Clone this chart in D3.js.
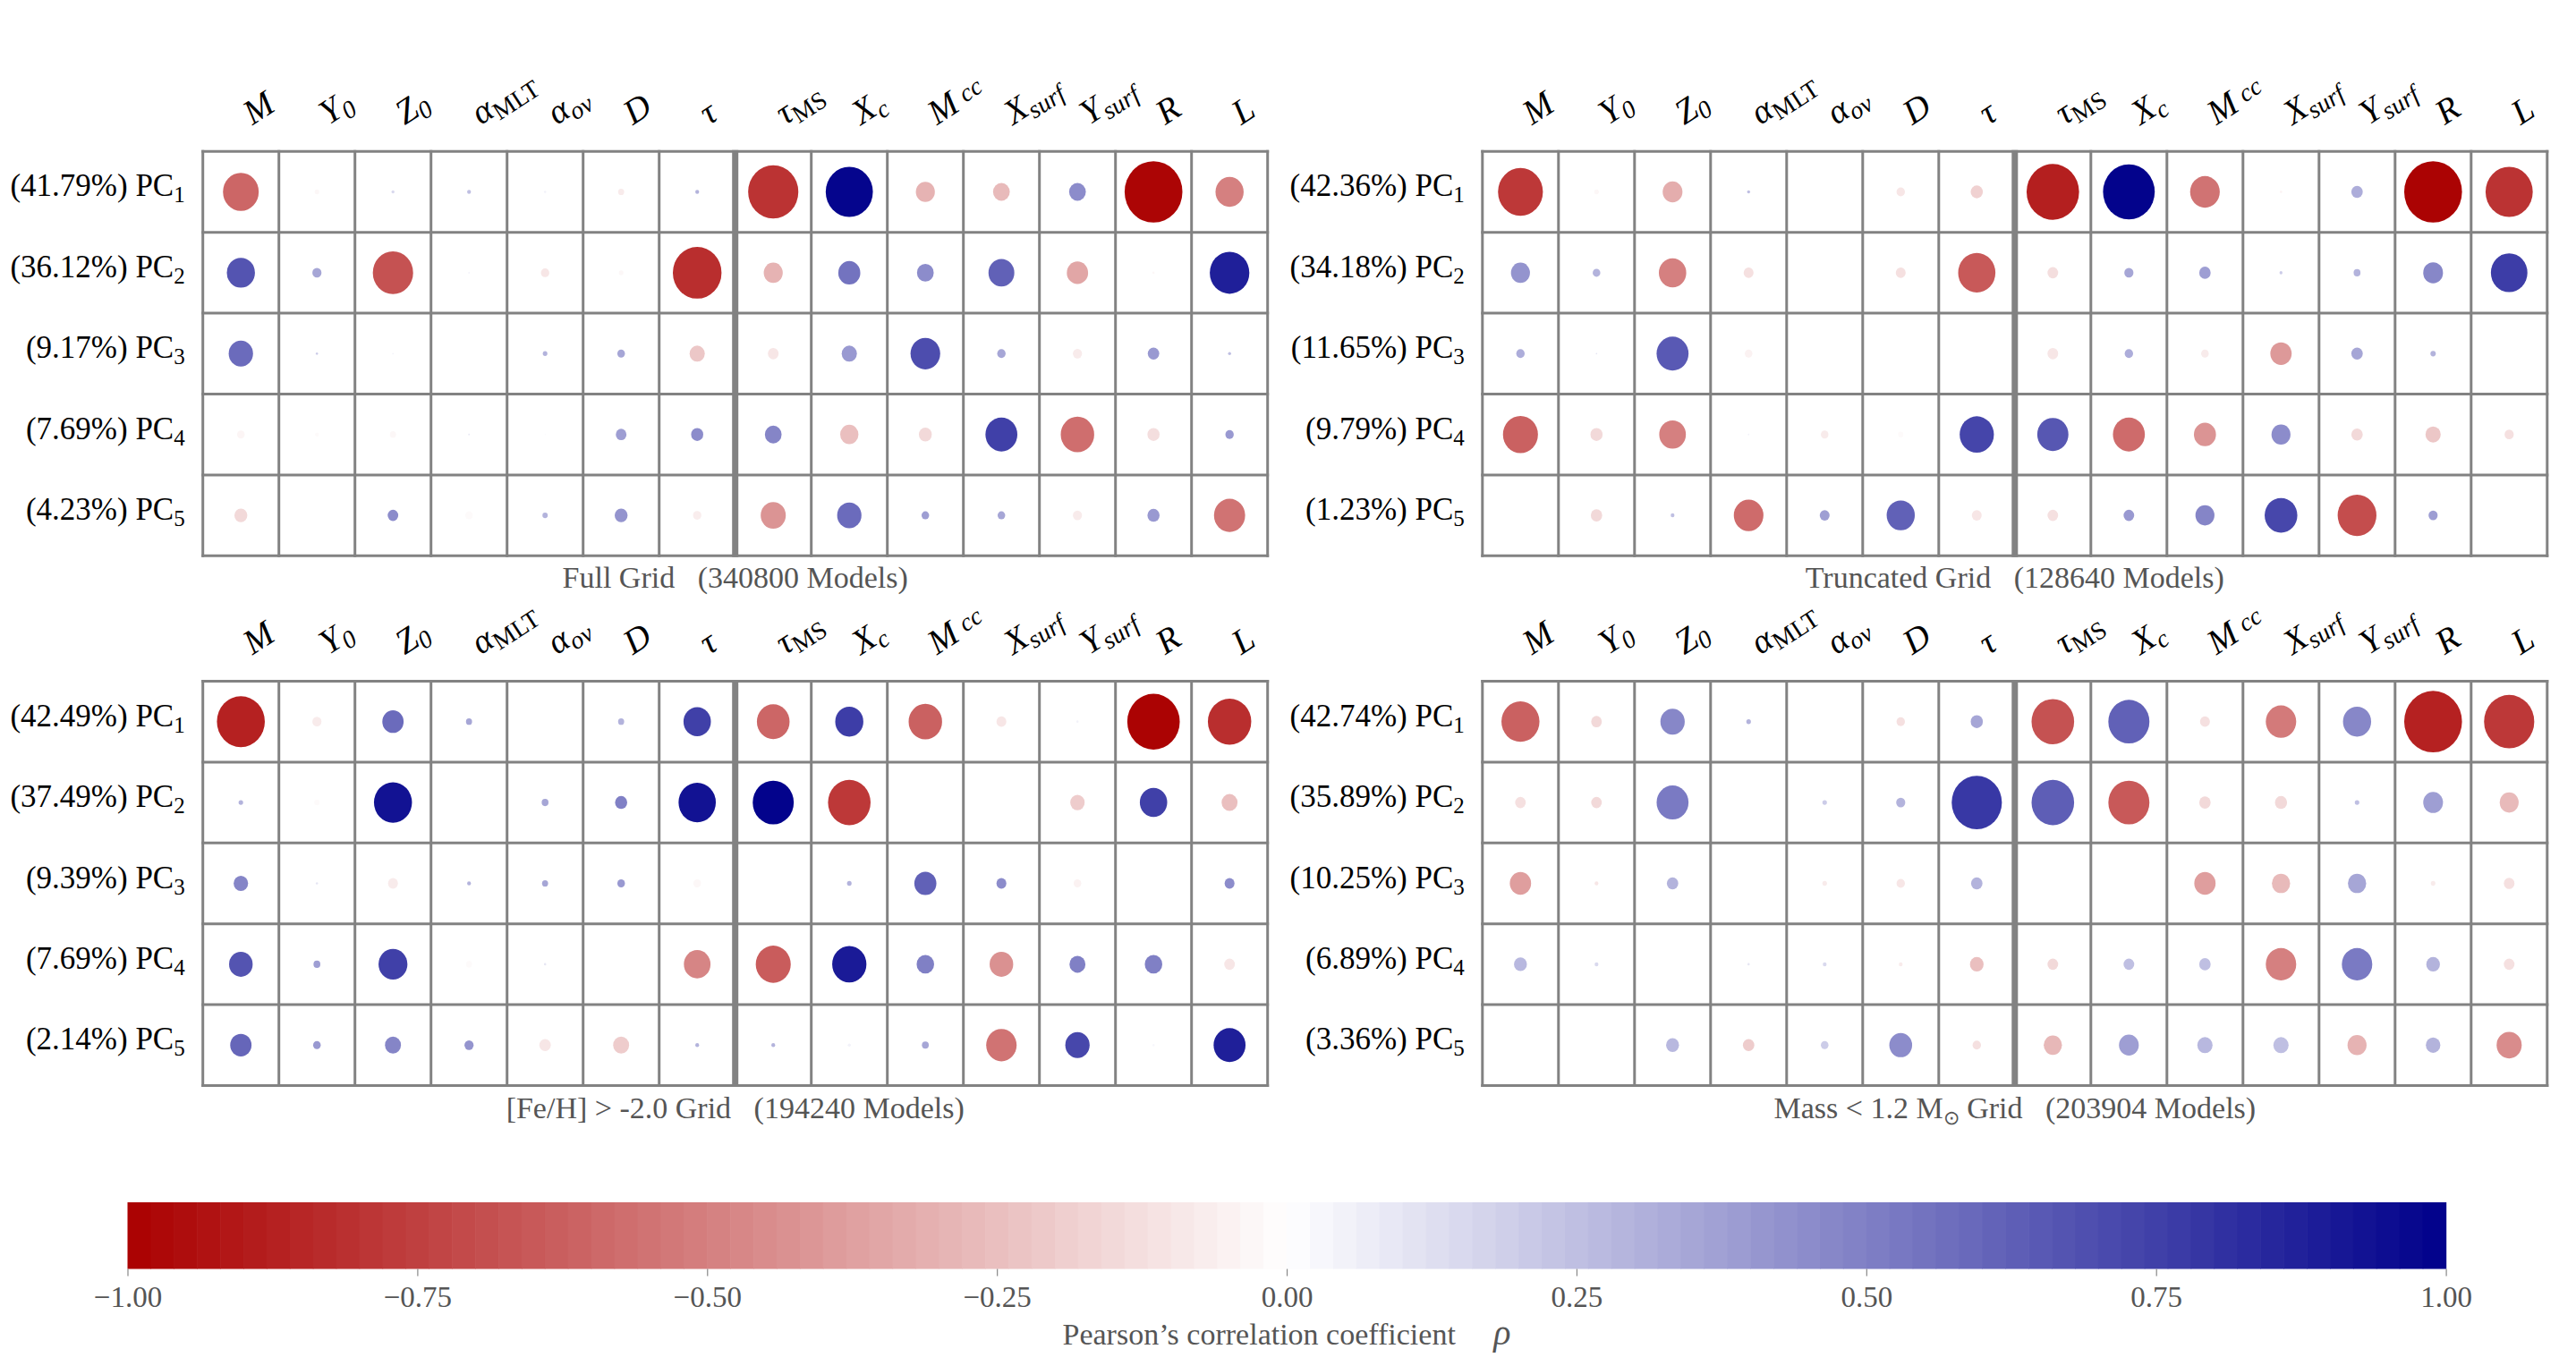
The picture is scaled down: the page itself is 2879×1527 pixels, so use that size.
<!DOCTYPE html>
<html><head><meta charset="utf-8">
<script src="https://cdn.jsdelivr.net/npm/d3@7"></script>
<style>
body{margin:0;background:#fff}
svg{display:block}
text{font-family:"Liberation Serif","Times New Roman",serif}
</style>
</head><body>
<svg id="chart" width="2879" height="1527"></svg>
<script>
// ---------------- data ----------------
const varMain = ["M","Y","Z","α","α","D","τ","τ","X","M","X","Y","R","L"];
const varSub  = ["","0","0","MLT","ov","","","MS","c","cc","surf","surf","",""];
const pcIndex = [1,2,3,4,5];
const panelTitles = ["Full Grid","Truncated Grid","[Fe/H] > -2.0 Grid","Mass < 1.2 M⊙ Grid"];
const panelModels = [340800,128640,194240,203904];
const varFull  = [41.79,36.12,9.17,7.69,4.23];
const varTrunc = [42.36,34.18,11.65,9.79,1.23];
const varFeH   = [42.49,37.49,9.39,7.69,2.14];
const varMass  = [42.74,35.89,10.25,6.89,3.36];

// Pearson correlation (colour) per PC row x variable column
const rhoFull = [
 [-0.60,-0.03,0.15,0.25,0.05,-0.08,0.30,-0.80,0.98,-0.30,-0.27,0.45,-0.98,-0.50],
 [0.67,0.35,-0.68,0.05,-0.10,-0.03,-0.82,-0.30,0.55,0.45,0.62,-0.35,-0.03,0.88],
 [0.58,0.20,0.05,0.00,0.30,0.35,-0.22,-0.10,0.40,0.70,0.35,-0.08,0.40,0.25],
 [-0.04,-0.02,-0.03,0.10,0.05,0.38,0.45,0.48,-0.25,-0.15,0.75,-0.57,-0.13,0.40],
 [-0.15,0.00,0.45,-0.02,0.30,0.42,-0.07,-0.42,0.58,0.38,0.35,-0.08,0.40,-0.55]];
const sizeFull = [
 [0.47,0.06,0.04,0.05,0.03,0.08,0.05,0.66,0.62,0.25,0.22,0.22,0.76,0.37],
 [0.37,0.12,0.53,0.02,0.11,0.06,0.64,0.25,0.29,0.22,0.34,0.28,0.03,0.52],
 [0.32,0.03,0.02,0.01,0.06,0.10,0.20,0.14,0.20,0.39,0.11,0.12,0.15,0.04],
 [0.10,0.05,0.08,0.02,0.01,0.14,0.16,0.22,0.24,0.17,0.42,0.44,0.16,0.11],
 [0.17,0.01,0.14,0.10,0.07,0.17,0.11,0.33,0.32,0.10,0.10,0.12,0.16,0.41]];

const rhoTrunc = [
 [-0.78,-0.03,-0.32,0.25,0.00,-0.10,-0.18,-0.88,0.99,-0.55,-0.05,0.32,-0.99,-0.80],
 [0.42,0.30,-0.50,-0.12,0.00,-0.12,-0.65,-0.13,0.35,0.38,0.20,0.30,0.47,0.76],
 [0.32,0.10,0.65,-0.05,0.00,0.00,0.00,-0.10,0.32,-0.08,-0.40,0.35,0.30,0.00],
 [-0.62,-0.15,-0.50,0.05,-0.08,-0.02,0.73,0.66,-0.58,-0.42,0.45,-0.15,-0.22,-0.12],
 [0.00,-0.15,0.25,-0.58,0.38,0.62,-0.10,-0.12,0.40,0.48,0.72,-0.70,0.38,0.00]];
const sizeTrunc = [
 [0.59,0.06,0.26,0.04,0.04,0.11,0.16,0.69,0.68,0.39,0.03,0.15,0.76,0.62],
 [0.25,0.10,0.36,0.13,0.02,0.13,0.49,0.14,0.12,0.15,0.04,0.09,0.26,0.48],
 [0.11,0.02,0.42,0.10,0.07,0.01,0.01,0.14,0.11,0.10,0.28,0.15,0.07,0.01],
 [0.46,0.16,0.35,0.02,0.10,0.07,0.45,0.41,0.42,0.29,0.25,0.15,0.20,0.12],
 [0.01,0.15,0.05,0.39,0.13,0.37,0.13,0.14,0.14,0.25,0.43,0.51,0.12,0.01]];

const rhoFeH = [
 [-0.87,-0.08,0.58,0.35,0.00,0.30,0.75,-0.60,0.76,-0.62,-0.10,0.05,-0.99,-0.82],
 [0.30,-0.02,0.93,0.00,0.35,0.50,0.93,0.99,-0.78,0.00,0.00,-0.20,0.75,-0.25],
 [0.48,0.10,-0.08,0.30,0.35,0.40,-0.03,0.00,0.30,0.62,0.45,-0.05,0.00,0.45],
 [0.67,0.38,0.75,-0.02,0.10,0.00,-0.48,-0.64,0.90,0.50,-0.43,0.50,0.50,-0.10],
 [0.60,0.40,0.48,0.42,-0.10,-0.20,0.30,0.30,0.05,0.35,-0.55,0.72,0.03,0.88]];
const sizeFeH = [
 [0.63,0.12,0.28,0.08,0.02,0.08,0.36,0.43,0.37,0.44,0.13,0.03,0.69,0.57],
 [0.06,0.07,0.50,0.01,0.09,0.16,0.49,0.54,0.56,0.01,0.01,0.19,0.36,0.21],
 [0.19,0.03,0.13,0.05,0.08,0.10,0.10,0.02,0.06,0.29,0.13,0.10,0.03,0.13],
 [0.31,0.09,0.38,0.08,0.03,0.01,0.35,0.46,0.45,0.23,0.31,0.21,0.23,0.14],
 [0.28,0.10,0.21,0.12,0.15,0.21,0.05,0.05,0.04,0.09,0.40,0.32,0.03,0.42]];

const rhoMass = [
 [-0.62,-0.15,0.47,0.30,0.00,-0.12,0.35,-0.68,0.62,-0.12,-0.52,0.47,-0.87,-0.78],
 [-0.12,-0.15,0.52,0.00,0.20,0.30,0.78,0.63,-0.65,-0.15,-0.15,0.25,0.38,-0.27],
 [-0.38,-0.10,0.30,0.00,-0.08,-0.10,0.30,0.00,0.00,-0.38,-0.27,0.35,-0.08,-0.12],
 [0.28,0.15,0.00,0.10,0.15,-0.08,-0.25,-0.15,0.25,0.25,-0.50,0.52,0.30,-0.12],
 [0.00,0.00,0.28,-0.20,0.20,0.45,-0.12,-0.28,0.38,0.28,0.25,-0.30,0.30,-0.45]];
const sizeMass = [
 [0.50,0.14,0.32,0.06,0.02,0.11,0.16,0.56,0.54,0.13,0.40,0.37,0.76,0.66],
 [0.14,0.14,0.42,0.01,0.06,0.12,0.66,0.56,0.54,0.15,0.16,0.06,0.26,0.25],
 [0.28,0.05,0.15,0.00,0.06,0.11,0.15,0.02,0.03,0.28,0.24,0.24,0.06,0.14],
 [0.17,0.05,0.01,0.03,0.05,0.05,0.18,0.14,0.14,0.15,0.40,0.40,0.18,0.14],
 [0.01,0.02,0.17,0.15,0.10,0.30,0.11,0.24,0.26,0.20,0.20,0.25,0.19,0.33]];

const cbTicks = [-1,-0.75,-0.5,-0.25,0,0.25,0.5,0.75,1];
const cbLabel = "Pearson’s correlation coefficient";

// ---------------- layout ----------------
const svg = d3.select("#chart");
const W = 1190, H = 452;
const panels = [
  {x:226.7, y:169.3, variance:varFull,  rho:rhoFull,  size:sizeFull},
  {x:1656.8,y:169.3, variance:varTrunc, rho:rhoTrunc, size:sizeTrunc},
  {x:226.7, y:761.5, variance:varFeH,   rho:rhoFeH,   size:sizeFeH},
  {x:1656.8,y:761.5, variance:varMass,  rho:rhoMass,  size:sizeMass}
];
panels.forEach((p,i)=>{p.title = panelTitles[i]; p.models = panelModels[i];});

const color = d3.scaleLinear().domain([-1,0,1]).range(["#aa0000","#ffffff","#00008b"]).interpolate(d3.interpolateRgb);
const x = d3.scaleBand().domain(d3.range(varMain.length)).range([0,W]).padding(0);
const y = d3.scaleBand().domain(d3.range(pcIndex.length)).range([0,H]).padding(0);
const sx = d3.scaleLinear().domain([0,1]).range([0,x.bandwidth()]);
const sy = d3.scaleLinear().domain([0,1]).range([0,y.bandwidth()]);
const gridColor = "#828282";

panels.forEach(p=>{
  const g = svg.append("g").attr("transform",`translate(${p.x},${p.y})`);
  g.append("rect").attr("x",0).attr("y",0).attr("width",W).attr("height",H).attr("fill","#fff");
  const cells = [];
  p.rho.forEach((row,r)=>row.forEach((v,c)=>cells.push({r,c,v,s:p.size[r][c]})));
  g.selectAll("ellipse").data(cells).join("ellipse")
    .attr("cx",d=>x(d.c)+x.bandwidth()/2)
    .attr("cy",d=>y(d.r)+y.bandwidth()/2)
    .attr("rx",d=>sx(d.s)/2)
    .attr("ry",d=>sy(d.s)/2)
    .attr("fill",d=>color(d.v));
  d3.range(varMain.length+1).forEach(i=>{
    const xx = i===varMain.length?W:x(i);
    g.append("line").attr("x1",xx).attr("x2",xx)
      .attr("y1",-1.5).attr("y2",H+1.5).attr("stroke",gridColor).attr("stroke-width",i===7?7:3);
  });
  d3.range(pcIndex.length+1).forEach(j=>{
    const yy = j===pcIndex.length?H:y(j);
    g.append("line").attr("x1",-1.5).attr("x2",W+1.5).attr("y1",yy).attr("y2",yy)
      .attr("stroke",gridColor).attr("stroke-width",3);
  });
  // column headers
  varMain.forEach((m,i)=>{
    const cx = x(i)+x.bandwidth()/2;
    const t = g.append("text").attr("transform",`translate(${cx+13},${-29}) rotate(-33)`)
      .attr("font-size",39).attr("fill","#000");
    const sub = varSub[i];
    t.append("tspan").attr("font-style","italic").text(m);
    if(sub){
      if(sub==="cc"){
        t.append("tspan").attr("font-style","italic").attr("font-size",28).attr("dx",8).attr("dy",-4).text(sub);
      } else {
        const upright = (sub==="MLT"||sub==="MS");
        t.append("tspan").attr("font-style",upright?"normal":"italic").attr("font-size",28).attr("dy",7).text(sub);
      }
    }
  });
  // row labels
  pcIndex.forEach((k,j)=>{
    const t = g.append("text").attr("x",-20).attr("y",y(j)+y.bandwidth()/2+5)
      .attr("text-anchor","end").attr("font-size",35).attr("fill","#000");
    t.append("tspan").text(`(${p.variance[j].toFixed(2)}%) PC`);
    t.append("tspan").attr("font-size",25).attr("dy",7).text(k);
  });
  // subtitle
  const st = g.append("text").attr("x",W/2).attr("y",H+36).attr("text-anchor","middle")
    .attr("font-size",34).attr("fill","#555").attr("xml:space","preserve").style("white-space","pre");
  const parts = p.title.split("⊙");
  st.append("tspan").text(parts[0]);
  if(parts.length>1){
    st.append("tspan").attr("font-size",22).attr("dy",7).text("⊙");
    st.append("tspan").attr("dy",-7).text(parts[1]);
  }
  st.append("tspan").text(`   (${p.models} Models)`);
});

// ---------------- colorbar ----------------
const cbX0 = 142.5, cbX1 = 2733.6, cbY = 1344, cbH = 74.5;
const cb = d3.scaleLinear().domain([-1,1]).range([cbX0,cbX1]);
const nBands = 100;
const bands = d3.range(nBands).map(i=>-1+i*2/nBands);
svg.append("g").selectAll("rect").data(bands).join("rect")
  .attr("x",d=>cb(d)).attr("y",cbY)
  .attr("width",d=>cb(d+2/nBands)-cb(d)+0.6).attr("height",cbH)
  .attr("fill",d=>color(d+1/nBands));
const ax = svg.append("g").attr("transform",`translate(0,${cbY+cbH})`)
  .call(d3.axisBottom(cb).tickValues(cbTicks).tickSize(8).tickFormat(d3.format(".2f")));
ax.select(".domain").remove();
ax.selectAll(".tick line").attr("stroke","#888").attr("stroke-width",1.2);
ax.selectAll(".tick text").attr("y",42).attr("dy",0).attr("font-size",33)
  .attr("font-family","Liberation Serif").attr("fill","#555");
const lbl = svg.append("text").attr("x",(cbX0+cbX1)/2).attr("y",1503).attr("text-anchor","middle")
  .attr("font-size",34).attr("fill","#555").attr("xml:space","preserve").style("white-space","pre");
lbl.append("tspan").text(cbLabel+"     ");
lbl.append("tspan").attr("font-style","italic").attr("font-size",40).attr("fill","#555").text("ρ");
</script>
</body></html>
